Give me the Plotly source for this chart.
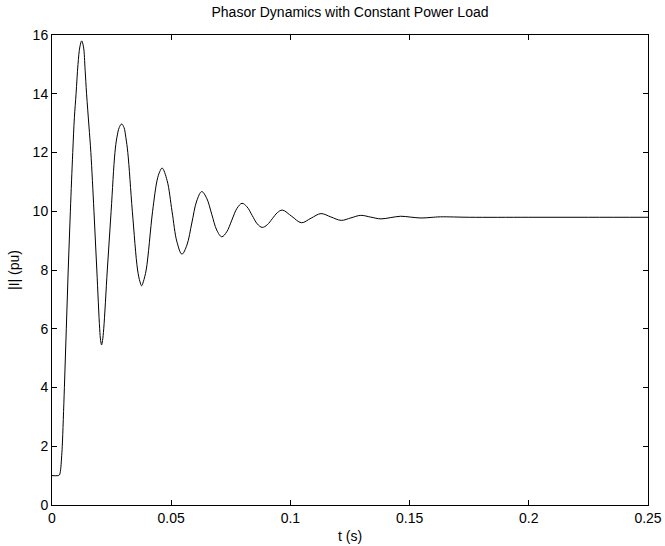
import plotly.graph_objects as go

# Time (s) and current magnitude |I| (pu)
t_vals = [
    0.0, 0.0025, 0.0031, 0.0036, 0.0040, 0.0043, 0.0052, 0.0060, 0.0068, 0.0077,
    0.0087, 0.0094, 0.0101, 0.0109, 0.0117, 0.01245, 0.0132, 0.0139, 0.0145, 0.0155,
    0.0163, 0.0176, 0.0188, 0.0200, 0.0204, 0.0208, 0.0212, 0.0217, 0.0232, 0.0248,
    0.0264, 0.0272, 0.0282, 0.0292, 0.0302, 0.0310, 0.0318, 0.0337, 0.0359, 0.0369,
    0.0376, 0.0383, 0.0395, 0.0422, 0.0441, 0.0452, 0.0462,
    0.0483, 0.05035, 0.0524, 0.0545,
    0.0566, 0.05865, 0.0607, 0.0628,
    0.0649, 0.0670, 0.0691, 0.0712,
    0.0733, 0.07545, 0.0776, 0.0797,
    0.0818, 0.08395, 0.0861, 0.0882,
    0.0903, 0.0924, 0.0945, 0.0966,
    0.1006, 0.1046, 0.1087, 0.1128, 0.1170, 0.1213, 0.1254, 0.1295,
    0.1337, 0.1380, 0.1421, 0.1463, 0.1505, 0.1548, 0.1590, 0.1630,
    0.1750, 0.2000, 0.2250, 0.2500,
]
i_vals = [
    1.0, 1.0, 1.02, 1.2, 1.6, 2.0, 4.0, 6.0, 8.0, 10.0,
    12.0, 13.2, 14.0, 15.0, 15.6, 15.8, 15.6, 14.8, 14.0, 12.9,
    12.0, 10.0, 8.0, 6.0, 5.6, 5.45, 5.6, 6.0, 8.0, 10.0,
    12.0, 12.5, 12.85, 12.97, 12.85, 12.5, 12.0, 10.0, 8.0, 7.6,
    7.46, 7.6, 8.0, 10.0, 11.06, 11.35, 11.47,
    11.04, 10.0, 8.96, 8.54,
    8.85, 9.6, 10.35, 10.67,
    10.44, 9.9, 9.36, 9.13,
    9.3, 9.7, 10.1, 10.27,
    10.15, 9.86, 9.57, 9.45,
    9.54, 9.745, 9.95, 10.04,
    9.825, 9.61, 9.765, 9.92, 9.805, 9.69, 9.775, 9.86,
    9.80, 9.74, 9.785, 9.83, 9.80, 9.77, 9.79, 9.81,
    9.795, 9.795, 9.795, 9.795,
]

x_ticks = [0, 0.05, 0.1, 0.15, 0.2, 0.25]
x_tick_labels = ["0", "0.05", "0.1", "0.15", "0.2", "0.25"]
y_ticks = [0, 2, 4, 6, 8, 10, 12, 14, 16]

fig = go.Figure()
fig.add_trace(go.Scatter(
    x=t_vals, y=i_vals, mode="lines",
    line=dict(color="black", width=1, shape="spline", smoothing=1.0),
    showlegend=False, hoverinfo="skip", cliponaxis=False,
))

font_family = "Liberation Sans, Arial, Helvetica, sans-serif"

fig.update_layout(
    width=665, height=546,
    margin=dict(l=52, r=17, t=35, b=41, autoexpand=False),
    paper_bgcolor="white", plot_bgcolor="white",
    font=dict(family=font_family, size=14, color="black"),
    title=dict(
        text="Phasor Dynamics with Constant Power Load",
        x=0.5, xanchor="center", xref="paper",
        y=0.977, yanchor="middle", yref="container",
        font=dict(size=14, color="black"),
    ),
)
fig.update_xaxes(
    range=[0, 0.25], tickvals=x_ticks, ticktext=x_tick_labels,
    ticks="inside", ticklen=5, tickcolor="black", tickwidth=1,
    showline=True, linecolor="black", linewidth=1, mirror="ticks",
    showgrid=False, zeroline=False, automargin=False,
    title=dict(text="t (s)", standoff=6, font=dict(size=14)),
)
fig.update_yaxes(
    range=[0, 16], tickvals=y_ticks,
    ticks="inside", ticklen=5, tickcolor="black", tickwidth=1,
    showline=True, linecolor="black", linewidth=1, mirror="ticks",
    showgrid=False, zeroline=False, automargin=False,
    title=dict(text="|I| (pu)", standoff=9, font=dict(size=14)),
)

fig.write_html(
    "out.html",
    config={"displayModeBar": False},
    post_script="document.body.style.margin='0';document.body.style.overflow='hidden';",
)
